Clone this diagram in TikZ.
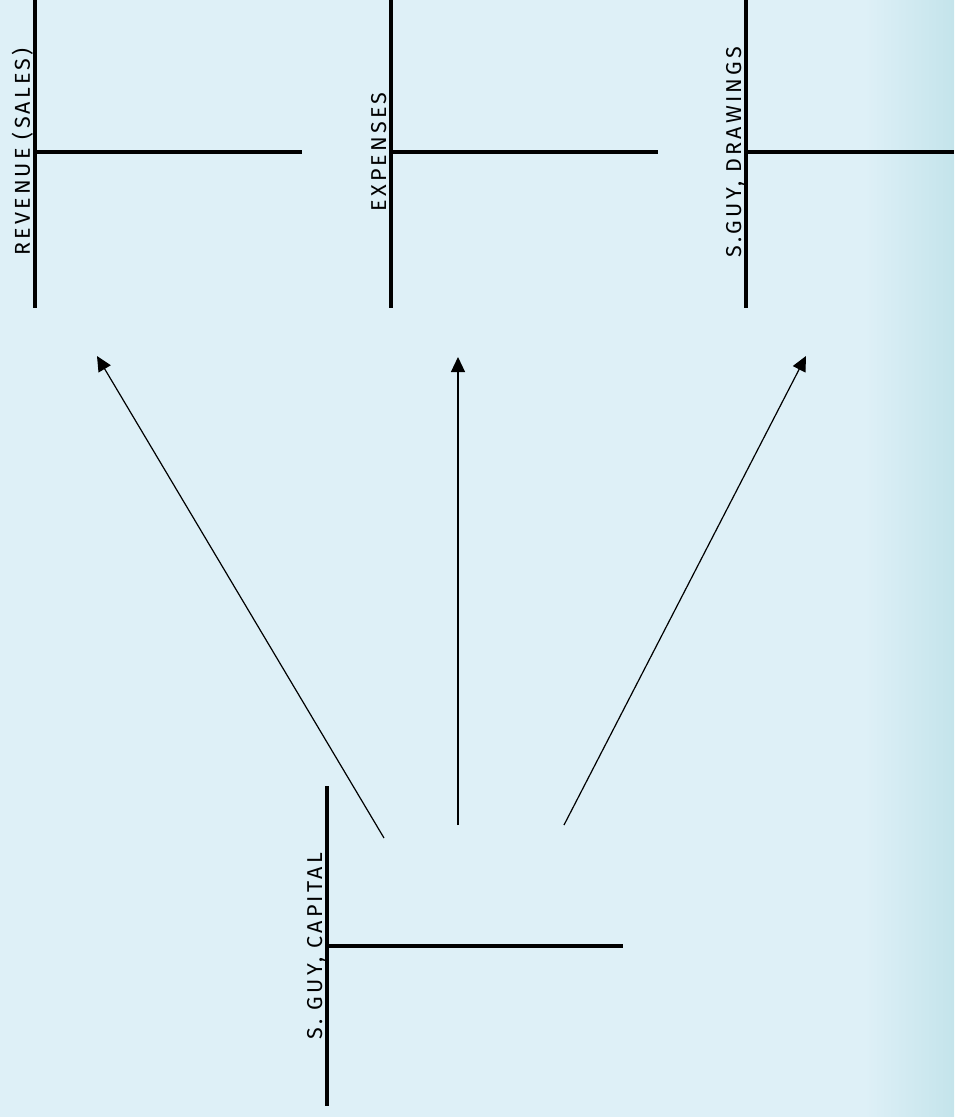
\documentclass[tikz,border=0pt]{standalone}
\usepackage{fontspec}
\setmainfont{Fira Sans}
\usepackage{xcolor}
\usetikzlibrary{arrows.meta,positioning}
\definecolor{paperblue}{RGB}{222,240,247}
\definecolor{edgeblue}{RGB}{196,228,235}

\begin{document}
\begin{tikzpicture}[x=1pt,y=-1pt,line cap=butt,
    tline/.style={line width=3.5pt},
    flow/.style={line width=1.2pt,-{Triangle[length=15pt,width=14pt]}},
    acct/.style={rotate=90,anchor=base,inner sep=0pt,
      font=\fontsize{21.5}{22}\selectfont\addfontfeatures{LetterSpace=15}}]
    % background, margins included
    \fill[paperblue] (0,0) rectangle (954,1117);
    \shade[left color=paperblue,right color=edgeblue] (865,0) rectangle (954,1117);
    \useasboundingbox (0,0) rectangle (954,1117);
    % the four T-accounts
    \coordinate (rev) at (35,152);
    \coordinate (exp) at (391,152);
    \coordinate (draw) at (746,152);
    \coordinate (cap) at (327,946);
    \draw [tline] (35,0) -- (35,308);
    \draw [tline] (rev) -- (302,152);
    \draw [tline] (391,0) -- (391,308);
    \draw [tline] (exp) -- (658,152);
    \draw [tline] (746,0) -- (746,308);
    \draw [tline] (draw) -- (954,152);
    \draw [tline] (327,786) -- (327,1106);
    \draw [tline] (cap) -- (623,946);
    \node [acct] (revlabel) at (30,152) {REVENUE (SALES)};
    \node [acct] (explabel) at (386,152) {EXPENSES};
    \node [acct] (drawlabel) at (741,152) {S.GUY, DRAWINGS};
    \node [acct] (caplabel) at (322,946) {S. GUY, CAPITAL};
    % arrows from capital to the other accounts
    \coordinate (fromrev) at (384,838);
    \coordinate (fromexp) at (458,825);
    \coordinate (fromdraw) at (564,825);
    \coordinate (torev) at (97,356);
    \coordinate (toexp) at (458,357);
    \coordinate (todraw) at (806,356);
    \draw [flow] (fromrev) -- (torev);
    \draw [flow] (fromexp) -- (toexp);
    \draw [flow] (fromdraw) -- (todraw);
\end{tikzpicture}
\end{document}
